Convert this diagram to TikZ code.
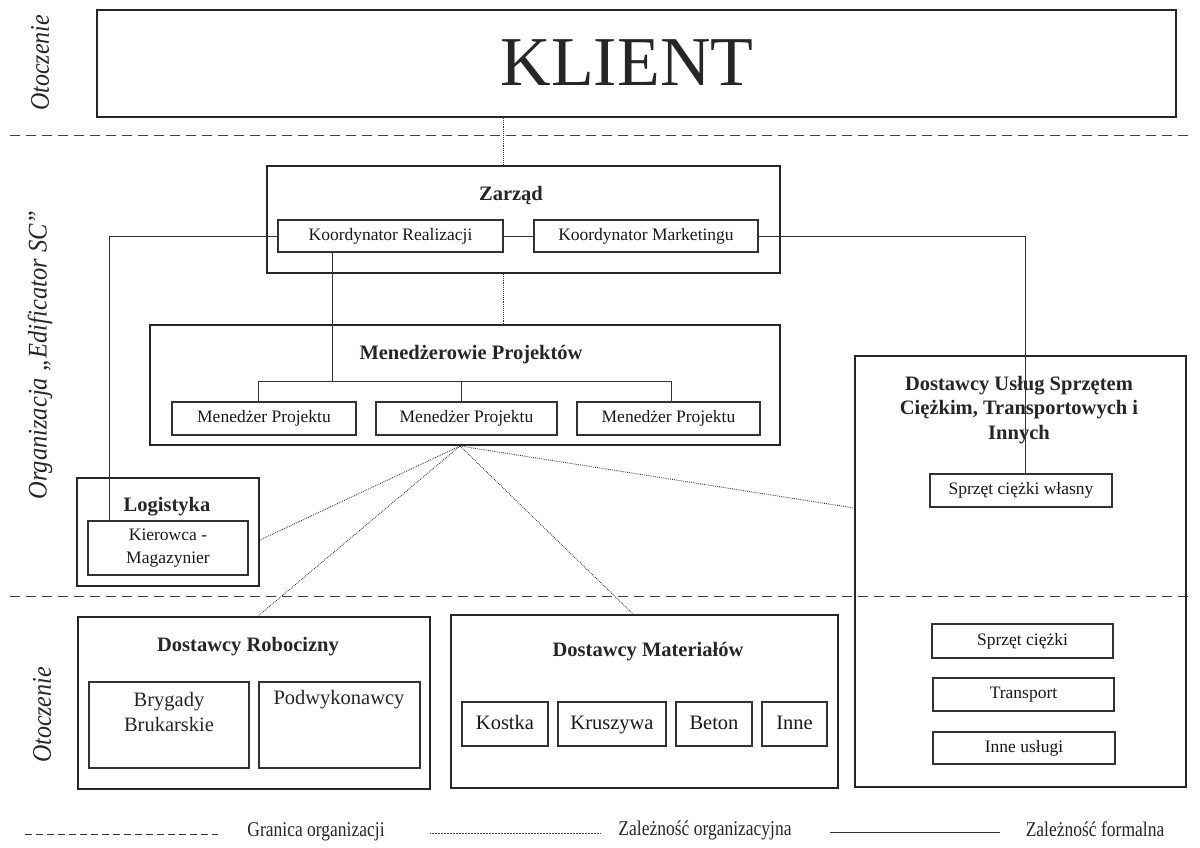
\documentclass[tikz,border=0pt]{standalone}
\usepackage{fontspec}
\setmainfont{Liberation Serif}
\usetikzlibrary{calc}
\newcommand\fHuge{\fontsize{70}{80}\selectfont}
\newcommand\fTitle{\fontsize{20.5}{24.5}\selectfont\bfseries}
\newcommand\fSmall{\fontsize{17.5}{21}\selectfont}
\newcommand\fMid{\fontsize{20.5}{25}\selectfont}
\newcommand\fSide{\fontsize{24}{28}\selectfont\itshape}
\newcommand\fLeg{\fontsize{17.5}{21}\selectfont}
\begin{document}
\begin{tikzpicture}[x=1pt,y=-1pt,
  outer/.style={draw=black!85, line width=1.9pt, inner sep=0pt},
  inner/.style={draw=black!80, line width=1.1pt, inner sep=0pt, font=\fSmall, text=black!90},
  one/.style={text height=12pt, text depth=3.5pt},
  onem/.style={font=\fMid, text height=14pt, text depth=4pt},
  ttl/.style={inner sep=0pt, font=\fTitle, text=black!85},
  formal/.style={draw=black!80, line width=1pt},
  orgdep/.style={draw=black!80, line width=0.9pt, dash pattern=on 0.8pt off 1.1pt},
  boundary/.style={draw=black!75, line width=0.9pt, dash pattern=on 10pt off 6pt},
  side/.style={inner sep=0pt, rotate=90, font=\fSide, text=black!85},
  leg/.style={inner sep=0pt, font=\fLeg, text=black!85}
]
\useasboundingbox (0,0) rectangle (1200,847);
\fill[white] (0,0) rectangle (1200,847);

% --- boundaries
\coordinate (bL1) at (10,135);  \coordinate (bR1) at (1190,135);
\coordinate (bL2) at (10,596);  \coordinate (bR2) at (1190,596);
\draw[boundary] (bL1) -- (bR1);
\draw[boundary] (bL2) -- (bR2);

% --- side labels
\node[side] (s1) at (40,63) {\scalebox{1}[1.12]{Otoczenie}};
\node[side] (s2) at (40,355) {\scalebox{1.02}[1.12]{Organizacja „Edificator SC”}};
\node[side] (s3) at (42,715) {\scalebox{1}[1.12]{Otoczenie}};

% --- client
\node[outer, minimum width=1079pt, minimum height=107pt] (klient) at (636.5,63.5) {};
\node[inner sep=0pt, font=\fHuge, text=black!85] (klientlbl) at (627,63) {KLIENT};

% --- board
\node[outer, minimum width=513pt, minimum height=107pt] (zarzad) at (523.5,219.5) {};
\node[ttl] (zarzadlbl) at (511,196) {Zarząd};
\node[inner, one, minimum width=225pt, minimum height=32pt] (kr) at (390.5,236) {Koordynator Realizacji};
\node[inner, one, minimum width=224pt, minimum height=32pt] (km) at (646,236) {Koordynator Marketingu};

% --- project managers
\node[outer, minimum width=630pt, minimum height=120pt] (menedz) at (465,385) {};
\node[ttl] (menedzlbl) at (471,355) {Menedżerowie Projektów};
\node[inner, one, minimum width=184pt, minimum height=33pt] (mp1) at (264,418.5) {Menedżer Projektu};
\node[inner, one, minimum width=181pt, minimum height=33pt] (mp2) at (466.5,418.5) {Menedżer Projektu};
\node[inner, one, minimum width=183pt, minimum height=33pt] (mp3) at (668.5,418.5) {Menedżer Projektu};

% --- logistics
\node[outer, minimum width=182pt, minimum height=108pt] (logistyka) at (168,532) {};
\node[ttl] (logistykalbl) at (167,507) {Logistyka};
\node[inner, minimum width=160pt, minimum height=54pt, align=center, font=\fontsize{17.5}{23.5}\selectfont] (kierowca) at (168,548) {Kierowca -\\Magazynier};

% --- equipment / transport suppliers
\node[outer, minimum width=331pt, minimum height=431pt] (dus) at (1020.5,571.5) {};
\node[ttl, align=center] (duslbl) at (1019,410) {Dostawcy Usług Sprzętem\\Ciężkim, Transportowych i\\Innych};
\node[inner, one, minimum width=182pt, minimum height=33pt] (scw) at (1021,490.5) {Sprzęt ciężki własny};
\node[inner, one, minimum width=181pt, minimum height=34pt] (sc) at (1022.5,641) {Sprzęt ciężki};
\node[inner, one, minimum width=181pt, minimum height=33pt] (tr) at (1023.5,694.5) {Transport};
\node[inner, one, minimum width=182pt, minimum height=32pt] (iu) at (1024,748) {Inne usługi};

% --- labour suppliers
\node[outer, minimum width=352pt, minimum height=172pt] (dr) at (254,703) {};
\node[ttl] (drlbl) at (248,647) {Dostawcy Robocizny};
\node[inner, minimum width=160pt, minimum height=86pt] (bb) at (169,725) {};
\node[inner sep=0pt, font=\fMid, align=center, text=black!85] (bblbl) at (169,712) {Brygady\\Brukarskie};
\node[inner, minimum width=161pt, minimum height=86pt] (pw) at (339.5,725) {};
\node[inner sep=0pt, font=\fMid, text=black!85] (pwlbl) at (339,700) {Podwykonawcy};

% --- material suppliers
\node[outer, minimum width=387pt, minimum height=173pt] (dm) at (644.5,701.5) {};
\node[ttl] (dmlbl) at (648,652) {Dostawcy Materiałów};
\node[inner, onem, minimum width=86pt, minimum height=44pt] (kostka) at (505,724) {Kostka};
\node[inner, onem, minimum width=108pt, minimum height=44pt] (kruszywa) at (612,724) {Kruszywa};
\node[inner, onem, minimum width=76pt, minimum height=44pt] (beton) at (714,724) {Beton};
\node[inner, onem, minimum width=65pt, minimum height=44pt] (inne) at (794.5,724) {Inne};

% --- helper coordinates
\coordinate (dz) at (503,0);
\coordinate (br) at (332,381);
\coordinate (b1) at (258,381);
\coordinate (b2) at (461,381);
\coordinate (b3) at (671,381);
\coordinate (lx) at (109,0);
\coordinate (rx) at (1025,0);
\coordinate (hub) at (460,446);
\coordinate (l1) at (260,540);
\coordinate (x1) at (258,0);
\coordinate (x2) at (633,0);
\coordinate (y3) at (0,508);

% --- organisational dependencies (dotted)
\draw[orgdep] (klient.south -| dz) -- (zarzad.north -| dz);
\draw[orgdep] (zarzad.south -| dz) -- (menedz.north -| dz);
\draw[orgdep] (hub) -- (l1);
\draw[orgdep] (hub) -- (dr.north -| x1);
\draw[orgdep] (hub) -- (dm.north -| x2);
\draw[orgdep] (hub) -- (dus.west |- y3);

% --- formal dependencies (solid)
\draw[formal] (kr.east) -- (km.west);
\draw[formal] (kr.west) -| (kierowca.north -| lx);
\draw[formal] (km.east) -| (scw.north -| rx);
\draw[formal] (kr.south -| br) -- (br);
\draw[formal] (mp1.north -| b1) -- (b1) -- (b3) -- (mp3.north -| b3);
\draw[formal] (b2) -- (mp2.north -| b2);

% --- legend
\coordinate (la1) at (25,834);  \coordinate (la2) at (218,834);
\coordinate (lb1) at (430,833); \coordinate (lb2) at (600,833);
\coordinate (lc1) at (830,832); \coordinate (lc2) at (1000,832);
\draw[black!80, line width=0.9pt, dash pattern=on 7pt off 4pt] (la1) -- (la2);
\draw[black!70, line width=0.7pt, dash pattern=on 0.6pt off 0.9pt] (lb1) -- (lb2);
\draw[black!80, line width=1pt] (lc1) -- (lc2);
\node[leg] (g1) at (316,832) {\scalebox{1}[1.2]{Granica organizacji}};
\node[leg] (g2) at (705,830) {\scalebox{1}[1.2]{Zależność organizacyjna}};
\node[leg] (g3) at (1095,829) {\scalebox{1}[1.2]{Zależność formalna}};
\end{tikzpicture}
\end{document}
